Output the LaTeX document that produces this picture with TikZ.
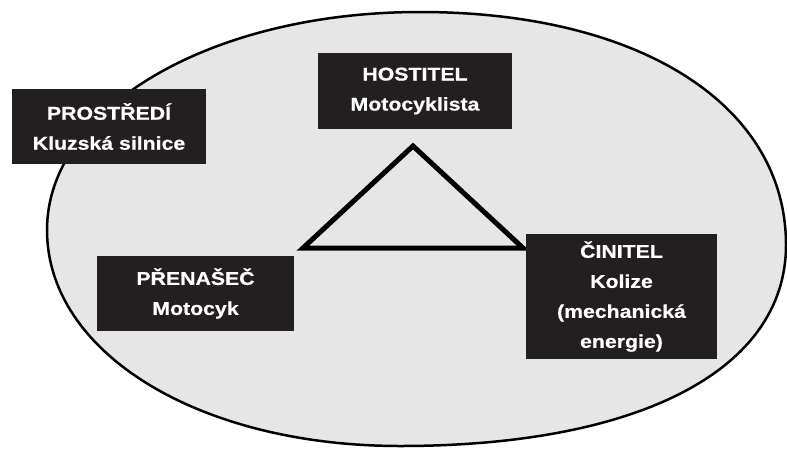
\documentclass[tikz,border=0pt]{standalone}
\usepackage{fontspec}
\setmainfont[FakeStretch=1.15,FakeBold=0.6]{Liberation Sans}
\definecolor{boxfill}{HTML}{231F20}
\definecolor{ellfill}{HTML}{E6E6E6}
\tikzset{
  label box/.style={fill=boxfill, text=white, draw=none, inner sep=0pt,
    align=center, font=\fontsize{18.5}{30}\selectfont\bfseries},
}
\begin{document}
\begin{tikzpicture}[x=1pt,y=-1pt]
\useasboundingbox (0,0) rectangle (787,448);
\fill[white] (0,0) rectangle (787,448);
\coordinate (T) at (420,12);
\coordinate (R) at (786,245);
\coordinate (B) at (400,446);
\coordinate (L) at (47,230);
\draw[fill=ellfill, line width=2.5pt]
  (T) .. controls (640,12) and (786,105) .. (R)
      .. controls (786,370) and (639,446) .. (B)
      .. controls (199,446) and (47,353) .. (L)
      .. controls (47,108) and (211,12) .. (T) -- cycle;
\coordinate (apex) at (413,146);
\coordinate (bl) at (303,248);
\coordinate (br) at (523,248);
\draw[line width=5pt, line join=miter] (apex) -- (bl) -- (br) -- cycle;
\node[label box, minimum width=194pt, minimum height=75pt] (prostredi) at (109,126.5) {PROSTŘEDÍ\\Kluzská silnice};
\node[label box, minimum width=194pt, minimum height=76pt] (hostitel) at (415,91) {HOSTITEL\\Motocyklista};
\node[label box, minimum width=191pt, minimum height=125pt] (cinitel) at (621.5,296.5) {ČINITEL\\Kolize\\(mechanická\\energie)};
\node[label box, minimum width=197pt, minimum height=75pt] (prenasec) at (195.5,293.5) {PŘENAŠEČ\\Motocyk};
\end{tikzpicture}
\end{document}
